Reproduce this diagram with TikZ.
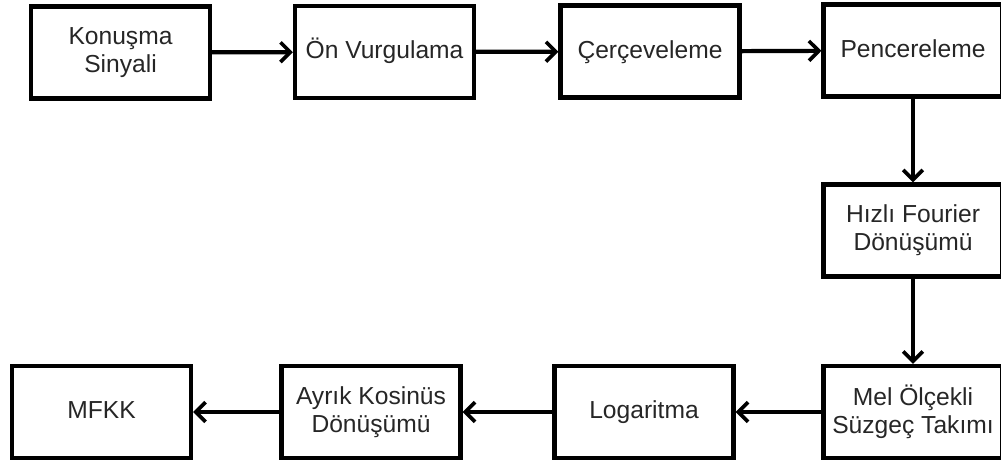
\documentclass[tikz,border=0pt]{standalone}
\usepackage{fontspec}
\setmainfont{Liberation Sans}
\usetikzlibrary{arrows.meta}

\begin{document}
\begin{tikzpicture}[x=0.025cm,y=-0.025cm,
  blok/.style={draw,line width=3pt,minimum width=179*0.025cm,minimum height=92*0.025cm,
    align=center,inner sep=2pt,font=\fontsize{17.5}{20}\selectfont,text=black!85},
  tek/.style={blok,text height=13pt,text depth=3.5pt},
  ok/.style={line width=3pt,-{Straight Barb[length=7pt,width=14pt,line width=2.6pt]}}]
\useasboundingbox (0,0) rectangle (1001,464);
\node[blok] (konusma) at (120.5,52.5) {Konuşma\\Sinyali};
\node[tek] (onvurg) at (384.5,52) {Ön Vurgulama};
\node[tek] (cerceve) at (650,51.5) {Çerçeveleme};
\node[tek] (pencere) at (913,50.5) {Pencereleme};
\node[blok] (hfd) at (913,230.5) {Hızlı Fourier\\Dönüşümü};
\node[blok] (mel) at (913,412) {Mel Ölçekli\\Süzgeç Takımı};
\node[tek] (loga) at (644,412) {Logaritma};
\node[blok] (akd) at (371,412) {Ayrık Kosinüs\\Dönüşümü};
\node[tek] (mfkk) at (101.5,412) {MFKK};
\draw[ok] (konusma) -- (onvurg);
\draw[ok] (onvurg) -- (cerceve);
\draw[ok] (cerceve) -- (pencere);
\draw[ok] (pencere) -- (hfd);
\draw[ok] (hfd) -- (mel);
\draw[ok] (mel) -- (loga);
\draw[ok] (loga) -- (akd);
\draw[ok] (akd) -- (mfkk);
\end{tikzpicture}
\end{document}
